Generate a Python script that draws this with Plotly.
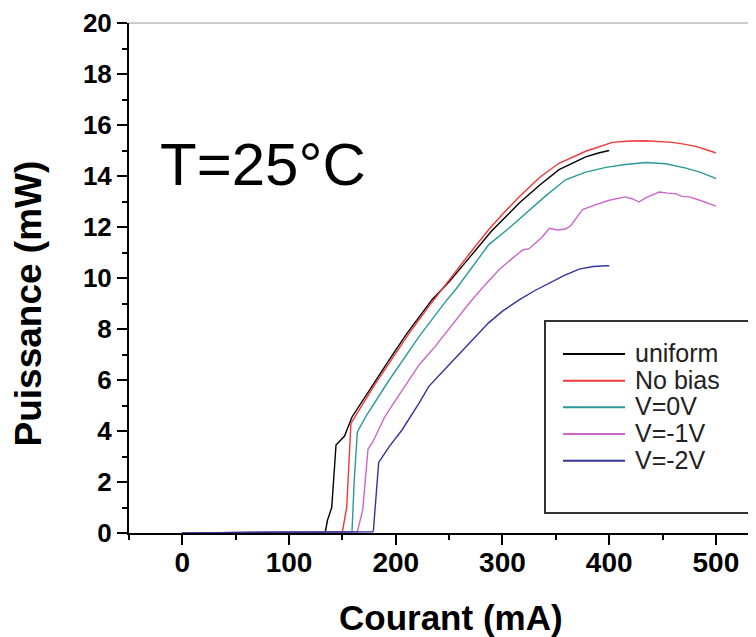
import plotly.graph_objects as go

names = ["uniform", "No bias", "V=0V", "V=-1V", "V=-2V"]
colors = ["#000000", "#f03838", "#2a9a98", "#cc66cc", "#333399"]

uniform_I = [0, 100, 134, 136, 140, 144, 152, 159, 175, 194, 210, 234, 250, 272, 290, 316, 335, 353, 378, 390, 400]
uniform_P = [0, 0.03, 0.05, 0.5, 1.0, 3.45, 3.8, 4.55, 5.6, 6.8, 7.8, 9.15, 9.85, 10.95, 11.85, 12.95, 13.65, 14.25, 14.75, 14.9, 15.0]

nobias_I = [0, 100, 150, 154, 158, 166, 180, 194, 212, 231, 250, 272, 287, 300, 316, 335, 353, 378, 403, 420, 434, 450, 459, 470, 481, 497, 500]
nobias_P = [0, 0.03, 0.05, 1.0, 4.3, 4.85, 5.8, 6.67, 7.8, 8.89, 9.93, 11.11, 11.89, 12.5, 13.2, 13.95, 14.5, 14.97, 15.32, 15.37, 15.38, 15.36, 15.32, 15.25, 15.16, 14.95, 14.9]

v0_I = [0, 100, 159, 161, 164, 172, 194, 222, 248, 256, 287, 306, 322, 340, 359, 378, 397, 415, 434, 453, 472, 485, 497, 500]
v0_P = [0, 0.03, 0.05, 2.0, 3.96, 4.57, 6.01, 7.71, 9.15, 9.54, 11.3, 11.95, 12.55, 13.2, 13.85, 14.15, 14.34, 14.45, 14.53, 14.48, 14.31, 14.15, 13.96, 13.9]

vm1_I = [0, 100, 164, 169, 174, 178, 189, 194, 210, 222, 237, 255, 269, 283, 297, 310, 319, 325, 331, 337, 344, 352, 359, 364, 370, 375, 387, 400, 415, 422, 428, 434, 440, 447, 455, 462, 468, 475, 485, 497, 500]
vm1_P = [0, 0.03, 0.05, 0.9, 3.29, 3.53, 4.5, 4.84, 5.85, 6.6, 7.32, 8.3, 9.02, 9.7, 10.33, 10.8, 11.1, 11.15, 11.37, 11.6, 11.95, 11.88, 11.92, 12.05, 12.4, 12.68, 12.87, 13.05, 13.18, 13.1, 12.98, 13.14, 13.25, 13.37, 13.33, 13.31, 13.2, 13.18, 13.05, 12.87, 12.82]

vm2_I = [0, 100, 178, 179, 184, 194, 206, 222, 231, 250, 266, 287, 300, 316, 330, 344, 358, 372, 385, 397, 400]
vm2_P = [0, 0.03, 0.05, 0.08, 2.77, 3.4, 4.05, 5.1, 5.75, 6.6, 7.32, 8.24, 8.7, 9.15, 9.5, 9.8, 10.1, 10.35, 10.45, 10.48, 10.48]

series_I = [uniform_I, nobias_I, v0_I, vm1_I, vm2_I]
series_P = [uniform_P, nobias_P, v0_P, vm1_P, vm2_P]

y_ticks = [0, 2, 4, 6, 8, 10, 12, 14, 16, 18, 20]
x_ticks = [0, 100, 200, 300, 400, 500]

FONT = "Liberation Sans, Arial, sans-serif"

# figure geometry (page body has an 8px margin)
W, H = 748, 629
ML, MT, MB = 121, 15, 104
PW, PH = W - ML, H - MT - MB


def px(xp):  # page pixel x -> paper
    return (xp - 8 - ML) / PW


def py(yp):  # page pixel y -> paper
    return (H - MB - (yp - 8)) / PH


fig = go.Figure()
for n, c, xi, yi in zip(names, colors, series_I, series_P):
    fig.add_trace(go.Scatter(x=xi, y=yi, mode="lines", name=n, showlegend=False,
                             line=dict(color=c, width=1.4)))

fig.update_layout(
    width=W, height=H,
    margin=dict(l=ML, r=0, t=MT, b=MB),
    plot_bgcolor="white", paper_bgcolor="white",
    showlegend=False,
)
fig.update_xaxes(range=[-50, 537.6], tickvals=x_ticks, ticks="outside",
                 ticklen=10, tickwidth=2, tickcolor="black",
                 showline=True, linecolor="black", linewidth=2,
                 showgrid=False, zeroline=False, ticklabelstandoff=-7,
                 tickfont=dict(family=FONT, size=28, color="black", weight="bold"),
                 minor=dict(dtick=50, tick0=-50, ticks="outside", ticklen=5,
                            tickwidth=2, tickcolor="black", showgrid=False))
fig.update_yaxes(range=[0, 20], tickvals=y_ticks, ticks="outside",
                 ticklen=10, tickwidth=2, tickcolor="black",
                 showline=True, linecolor="black", linewidth=2,
                 showgrid=False, zeroline=False,
                 tickfont=dict(family=FONT, size=26, color="black", weight="bold"),
                 minor=dict(dtick=1, tick0=0, ticks="outside", ticklen=5,
                            tickwidth=2, tickcolor="black", showgrid=False))

fig.add_shape(type="line", xref="paper", yref="paper", x0=0, x1=1, y0=1, y1=1,
              line=dict(color="#999999", width=1))

# legend box drawn as shapes + text
fig.add_shape(type="rect", xref="paper", yref="paper",
              x0=px(545), x1=px(751), y0=py(513), y1=py(321),
              line=dict(color="#333333", width=2), fillcolor="white", layer="above")
row_y = [354, 380.7, 407.3, 434, 460.7]
for n, c, ry in zip(names, colors, row_y):
    fig.add_shape(type="line", xref="paper", yref="paper",
                  x0=px(563), x1=px(625), y0=py(ry), y1=py(ry),
                  line=dict(color=c, width=2), layer="above")
    fig.add_annotation(text=n, xref="paper", yref="paper",
                       x=px(633), y=py(ry - 1), xanchor="left", yanchor="middle",
                       showarrow=False,
                       font=dict(family=FONT, size=25, color="#222222"))

fig.add_annotation(text="Puissance (mW)", xref="paper", yref="paper",
                   x=-0.1595, y=0.45, xanchor="center", yanchor="middle",
                   textangle=-90, showarrow=False,
                   font=dict(family=FONT, size=37, color="black", weight="bold"))
fig.add_annotation(text="Courant (mA)", xref="paper", yref="paper",
                   x=0.5136, y=py(617), xanchor="center", yanchor="middle",
                   showarrow=False,
                   font=dict(family=FONT, size=35, color="black", weight="bold"))
fig.add_annotation(text="T=25°C", xref="paper", yref="paper",
                   x=px(158), y=py(164), xanchor="left", yanchor="middle",
                   showarrow=False,
                   font=dict(family=FONT, size=60, color="black"))

fig.write_html("out.html")
